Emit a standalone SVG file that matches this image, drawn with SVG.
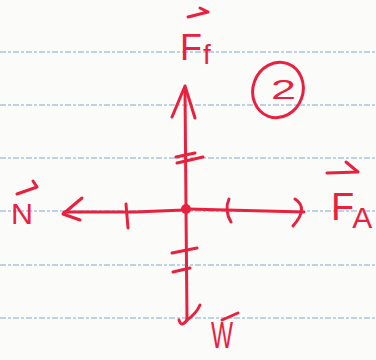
<svg xmlns="http://www.w3.org/2000/svg" width="376" height="360" viewBox="0 0 376 360">
<defs>
<style>
.bg{fill:#fbfbfa}
.rule{stroke:#a9c6dc;stroke-width:1.3;stroke-dasharray:6 2 3 2;fill:none}
.pen{stroke:#e8213f;stroke-width:3;fill:none;stroke-linecap:round;stroke-linejoin:round}
.lbl{font-family:"Liberation Sans","DejaVu Sans",sans-serif;fill:#e8213f}
</style>
</defs>
<rect class="bg" x="0" y="0" width="376" height="360"/>
<g id="paper-lines">
<line class="rule" x1="0" y1="52" x2="376" y2="52"/>
<line class="rule" x1="0" y1="105" x2="376" y2="105"/>
<line class="rule" x1="0" y1="158" x2="376" y2="158"/>
<line class="rule" x1="0" y1="211" x2="376" y2="211"/>
<line class="rule" x1="0" y1="265" x2="376" y2="265"/>
<line class="rule" x1="0" y1="318" x2="376" y2="318"/>
</g>
<g id="connectors">
<!-- up: Ff -->
<path class="pen" d="M186 208 L185 88"/>
<path class="pen" d="M172 117 L185 86 L195 118"/>
<path class="pen" d="M176 157 L195 153 M177 163 L203 157"/>
<!-- down: W -->
<path class="pen" d="M186 210 L187 320"/>
<path class="pen" d="M179 320 Q181 328 187 320 Q196 314 200 305"/>
<path class="pen" d="M172 253 L197 248 M173 272 L190 268"/>
<!-- left: N -->
<path class="pen" d="M184 210 L135 212 L64 212"/>
<path class="pen" d="M82 198 L63 214 L80 220"/>
<path class="pen" d="M126 204 L128 228"/>
<!-- right: FA -->
<path class="pen" d="M188 209 L304 212"/>
<path class="pen" d="M295 199 Q309 208 293 226"/>
<path class="pen" d="M229 199 Q224 210 231 222"/>
<circle cx="186" cy="209" r="5" fill="#e8213f"/>
</g>
<g id="node-Ff">
<path class="pen" d="M188 17 L208 12 M200 8 L208 12"/>
<text class="lbl" x="180" y="60" font-size="36">F<tspan font-size="28" dx="1" dy="4">f</tspan></text>
</g>
<g id="node-N">
<path class="pen" d="M17 194 L37 187 M33 181 L37 187"/>
<text class="lbl" x="11" y="224" font-size="29" textLength="22" lengthAdjust="spacingAndGlyphs">N</text>
</g>
<g id="node-FA">
<path class="pen" d="M327 173 L358 172 M346 162 L358 172"/>
<text class="lbl" x="331" y="220" font-size="38">F<tspan font-size="30" dx="-2" dy="8">A</tspan></text>
</g>
<g id="node-W">
<path class="pen" d="M222 320 L238 313"/>
<text class="lbl" x="211" y="348" font-size="36" textLength="22" lengthAdjust="spacingAndGlyphs">W</text>
</g>
<g id="node-2">
<ellipse class="pen" cx="278" cy="90" rx="25" ry="28" transform="rotate(20 278 90)"/>
<text class="lbl" x="271" y="99" font-size="28" textLength="25" lengthAdjust="spacingAndGlyphs">2</text>
</g>
</svg>
